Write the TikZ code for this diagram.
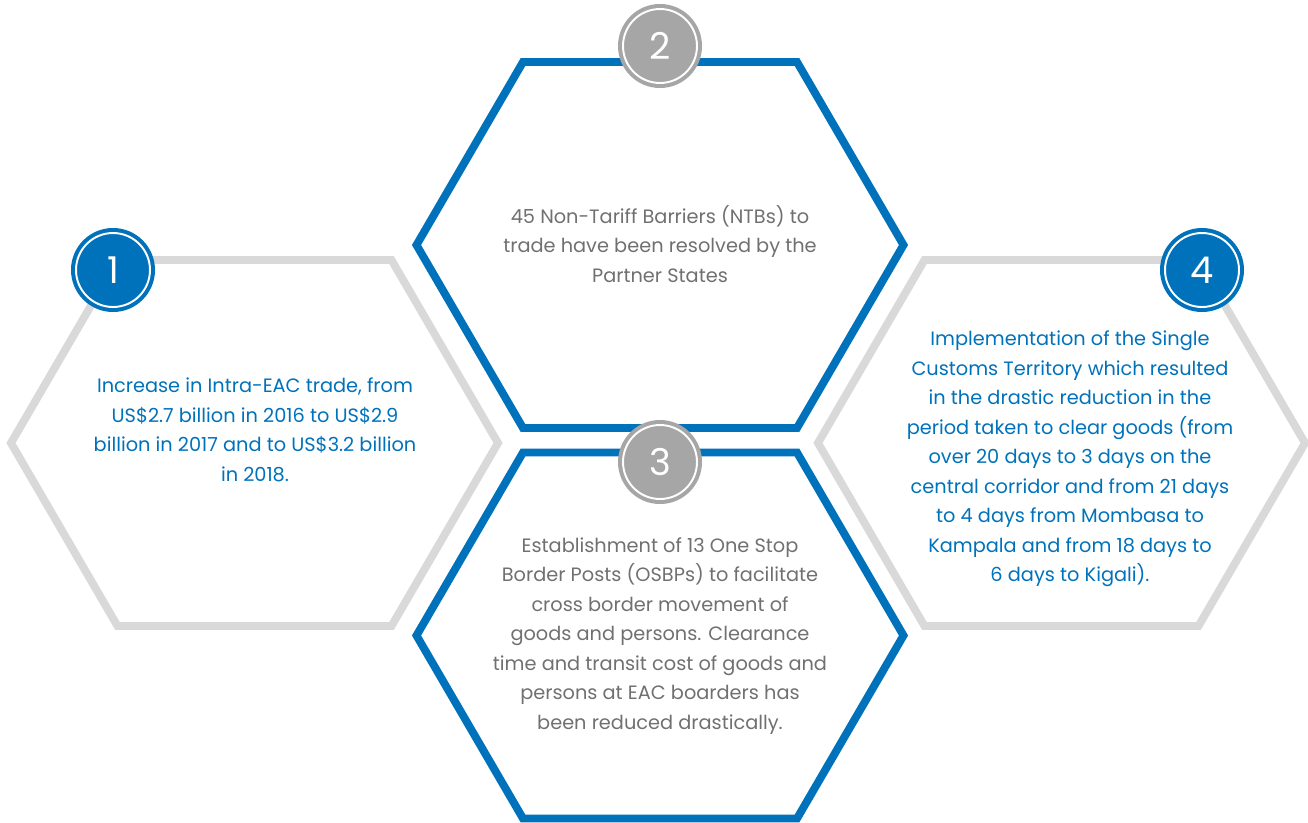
\documentclass[tikz,border=0pt]{standalone}
\usepackage{fontspec}
\setmainfont{Poppins}
\usetikzlibrary{positioning}

\definecolor{eacblue}{RGB}{0,114,187}
\definecolor{hexgray}{RGB}{217,217,217}
\definecolor{badgegray}{RGB}{166,166,166}
\definecolor{txtgray}{RGB}{112,112,112}

\tikzset{
  hexline/.style={line width=4.5pt, line join=miter},
  badge/.style={circle, minimum size=1.48cm, inner sep=0pt, outer sep=0pt,
    draw=white, line width=1.1pt, fill=#1,
    preaction={draw=#1, line width=5.7pt},
    text=white, font=\fontsize{21}{21}\selectfont},
  bodytext/.style={align=center, font=\fontsize{11}{16.8}\selectfont}
}

\begin{document}
\begin{tikzpicture}[x=0.02cm, y=-0.02cm]
\useasboundingbox (0,0) rectangle (1308,822);
\clip (0,0) rectangle (1308,822);
% hexagons
\foreach \cx/\cy/\col in {254.5/443/hexgray, 1061.5/443/hexgray, 660/245/eacblue, 660/635.5/eacblue}
  \draw[hexline, draw=\col, shift={(\cx,\cy)}]
    (-243.5,0) -- (-137,-183) -- (137,-183) -- (243.5,0) -- (137,183) -- (-137,183) -- cycle;
% texts
\node[bodytext, text=eacblue] (t1) at (255,430) {Increase in Intra-EAC trade, from\\US\$2.7 billion in 2016 to US\$2.9\\billion in 2017 and to US\$3.2 billion\\in 2018.};
\node[bodytext, text=txtgray] (t2) at (660,244) {45 Non-Tariff Barriers (NTBs) to\\trade have been resolved by the\\Partner States};
\node[bodytext, text=txtgray] (t3) at (660,636) {Establishment of 13 One Stop\\Border Posts (OSBPs) to facilitate\\cross border movement of\\goods and persons. Clearance\\time and transit cost of goods and\\persons at EAC boarders has\\been reduced drastically.};
\node[bodytext, text=eacblue] (t4) at (1070,459) {Implementation of the Single\\Customs Territory which resulted\\in the drastic reduction in the\\period taken to clear goods (from\\over 20 days to 3 days on the\\central corridor and from 21 days\\to 4 days from Mombasa to\\Kampala and from 18 days to\\6 days to Kigali).};
% numbers
\node[badge=eacblue] (n1) at (113,270) {1};
\node[badge=badgegray] (n2) at (660,46) {2};
\node[badge=badgegray] (n3) at (660,462) {3};
\node[badge=eacblue] (n4) at (1202,270) {4};
\end{tikzpicture}
\end{document}
